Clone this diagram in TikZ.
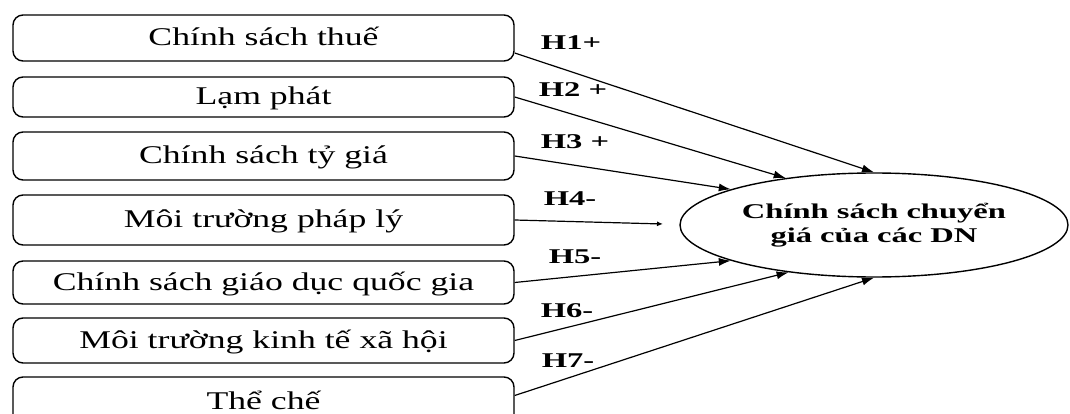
\documentclass[tikz,border=0pt]{standalone}
\usepackage{fontspec}
\setmainfont{Liberation Serif}
\newfontfamily\boxfont{Liberation Serif}[FakeStretch=1.4]
\newfontfamily\lblfont{Liberation Serif}[FakeStretch=1.55]
\usetikzlibrary{arrows.meta,shapes.geometric}
\begin{document}
\begin{tikzpicture}[x=1pt,y=-1pt,
  factor/.style={draw, line width=1.4pt, rounded corners=10pt, minimum width=501pt,
    inner sep=0pt, font=\boxfont\fontsize{25.5}{29}\selectfont, text height=18pt, text depth=3pt},
  hyp/.style={font=\lblfont\bfseries\fontsize{21}{24}\selectfont, inner sep=0pt},
  link/.style={line width=1.2pt, -{Latex[length=12pt,width=8pt]}},
  smalllink/.style={line width=1.2pt, -{Latex[length=6pt,width=5pt]}},
  outcome/.style={draw, ellipse, line width=1.4pt, minimum width=388pt, minimum height=104pt,
    inner sep=0pt, align=center, font=\lblfont\bfseries\fontsize{21}{24}\selectfont}
]
\useasboundingbox (0,0) rectangle (1070,414);
\clip (0,0) rectangle (1070,414);

\node[factor, minimum height=46pt] (b1) at (263.5,38) {Chính sách thuế};
\node[factor, minimum height=40pt] (b2) at (263.5,97) {Lạm phát};
\node[factor, minimum height=48pt] (b3) at (263.5,156) {Chính sách tỷ giá};
\node[factor, minimum height=50pt] (b4) at (263.5,220) {Môi trường pháp lý};
\node[factor, minimum height=43pt] (b5) at (263.5,282.5) {Chính sách giáo dục quốc gia};
\node[factor, minimum height=45pt] (b6) at (263.5,340.5) {Môi trường kinh tế xã hội};
\node[factor, minimum height=49pt] (b7) at (263.5,401.5) {Thể chế};

\node[outcome] (ell) at (874,225) {Chính sách chuyển\\giá của các DN};

\node[hyp] (h1) at (571,43) {H1+};
\node[hyp] (h2) at (573,90) {H2 +};
\node[hyp] (h3) at (575,142) {H3 +};
\node[hyp] (h4) at (570,199) {H4-};
\node[hyp] (h5) at (575,257) {H5-};
\node[hyp] (h6) at (567,311) {H6-};
\node[hyp] (h7) at (568,361) {H7-};

\coordinate (h4end) at (663,224);
\draw[link] ([yshift=-15pt]b1.east) -- (ell.north);
\draw[link] (b2.east) -- (ell.152);
\draw[link] (b3.east) -- (ell.166);
\draw[smalllink] (b4.east) -- (h4end);
\draw[link] (b5.east) -- (ell.194);
\draw[link] (b6.east) -- (ell.209);
\draw[link] ([yshift=6pt]b7.east) -- (ell.south);
\end{tikzpicture}
\end{document}
